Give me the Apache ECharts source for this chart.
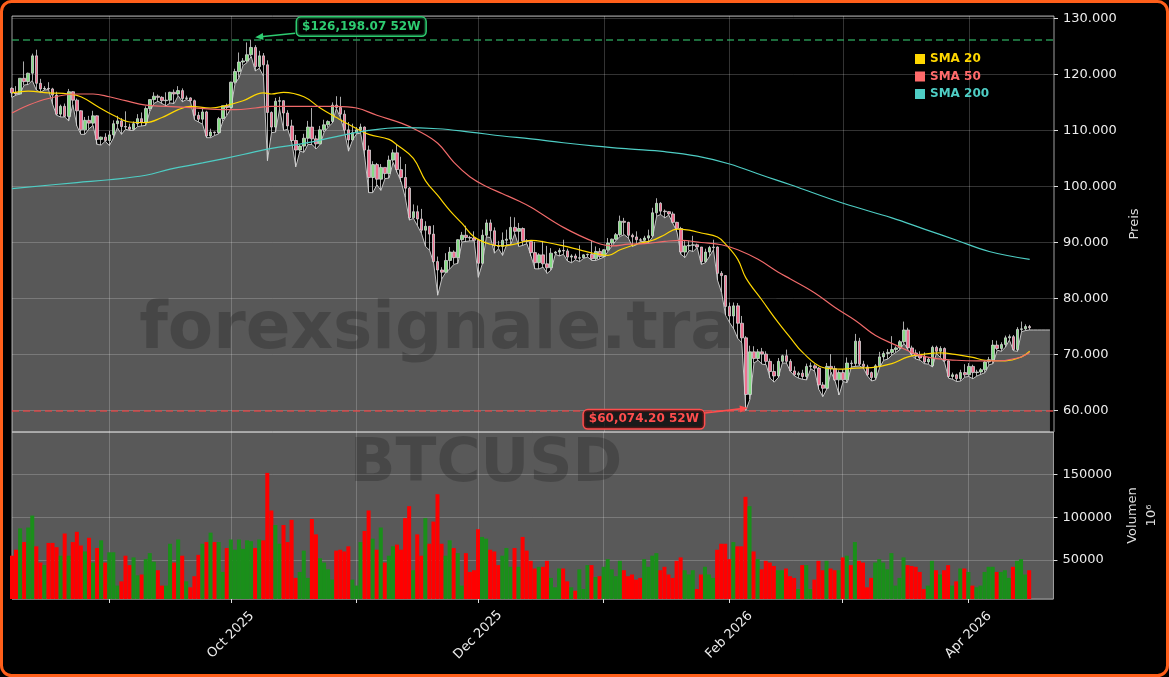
<!DOCTYPE html>
<html><head><meta charset="utf-8">
<script src="https://cdn.jsdelivr.net/npm/echarts@6/dist/echarts.min.js"></script>
<style>html,body{margin:0;padding:0;background:#000;}#c{width:1169px;height:677px;}</style>
</head><body><div id="c"></div>
<script>
// ---------- data ----------
const startDate = '2025-08-08';
const dayCount = 258; // axis runs to 2026-04-22
const tickLabels = ['Oct 2025', 'Dec 2025', 'Feb 2026', 'Apr 2026'];

const open = [
117500,116700,116500,119300,118700,120200,123300,118400,117400,117500,
117400,116300,112900,114300,112500,116900,115400,113500,110100,111800,
111300,112600,108400,108800,108200,109200,111200,111700,110700,110600,
110200,111200,112100,111500,113900,115500,116100,115900,115300,115400,
116800,116500,117100,115700,115800,115300,112700,112000,113300,109000,
109700,109600,112100,114400,114100,118600,120500,122200,122400,123500,
124800,121400,123300,121700,113200,110600,115200,115300,113100,110800,
108200,106500,107200,108600,110600,108500,107600,110100,111000,111600,
114500,114100,112900,110100,108300,109600,110100,110600,106500,101600,
103900,101300,103400,102300,104700,106000,103000,101600,99700,94400,
95500,94200,92200,92900,91500,86600,85100,84700,86800,88300,
87300,90500,91300,90900,90800,90400,86300,91300,93500,92100,
89400,89300,90400,90600,92700,92000,92500,90300,90200,88200,
86400,87800,86200,85500,88100,88300,88600,88500,87400,87600,
87200,87300,87800,87900,87100,88400,87500,88700,89900,90600,
91400,93800,93600,91300,91000,90500,90400,90800,91200,95300,
97000,95600,95500,95100,93600,92500,88300,89400,89500,89600,
89200,86600,88300,89100,89200,84500,84100,78600,76900,78700,
75600,73000,62900,
70500,69300,70500,70100,68800,67000,66200,68800,69800,68800,
67100,66400,66700,66100,67900,68000,67600,64600,64000,67900,
67500,65500,66800,65500,68500,68400,72400,68300,67800,66800,
65900,68000,69600,70200,70400,70900,71200,72300,74400,71200,
70300,69900,69700,68700,68000,71300,70600,71100,68900,66100,
66400,65700,66800,66400,67900,66800,66900,67300,68700,69100,
71700,71100,71800,73000,73200,70900,74500,74600,75000];

const close = [
116700,116500,119300,118700,120200,123300,118400,117400,117500,117400,
116300,112900,114300,112500,116900,115400,113500,110100,111800,111300,
112600,108400,108800,108200,109200,111200,111700,110700,110600,110200,
111200,112100,111500,113900,115500,116100,115900,115300,115400,116800,
116500,117100,115700,115800,115300,112700,112000,113300,109000,109700,
109600,112100,114400,114100,118600,120500,122200,122400,123500,124800,
121400,123300,121700,113200,110600,115200,115300,113100,110800,108200,
106500,107200,108600,110600,108500,107600,110100,111000,111600,114500,
114100,112900,110100,108300,109600,110100,110600,106500,101600,103900,
101300,103400,102300,104700,106000,103000,101600,99700,94400,95500,
94200,92200,92900,91500,86600,85100,84700,86800,88300,87300,
90500,91300,90900,90800,90400,86300,91300,93500,92100,89400,
89300,90400,90600,92700,92000,92500,90300,90200,88200,86400,
87800,86200,85500,88100,88300,88600,88500,87400,87600,87200,
87300,87800,87900,87100,88400,87500,88700,89900,90600,91400,
93800,93600,91300,91000,90500,90400,90800,91200,95300,97000,
95600,95500,95100,93600,92500,88300,89400,89500,89600,89200,
86600,88300,89100,89200,84500,84100,78600,76900,78700,75600,
73000,62900,70500,
69300,70500,70100,68800,67000,66200,68800,69800,68800,67100,
66400,66700,66100,67900,68000,67600,64600,64000,67900,67500,
65500,66800,65500,68500,68400,72400,68300,67900,66400,65900,
68000,69600,70200,70400,70900,71200,72300,74400,71200,70100,
69700,69400,68700,69200,71300,70600,71100,68900,66100,66400,
65700,66800,66400,67900,66800,66900,67300,68700,69100,71700,
71100,71800,73000,73200,70900,74500,74600,75000,74800];

const high = [
117700,117900,119300,122300,120300,123700,124400,119200,117900,118600,
117600,116900,114600,114800,117400,117000,115700,113600,112400,112600,
113500,112700,108900,109500,109900,111800,112600,112200,113400,111200,
111600,112900,113200,114300,115500,116800,116400,116100,116800,116900,
117300,117900,117500,116200,115900,115500,113300,113900,113500,110300,
109800,112400,114400,114800,118700,121000,123900,122900,125700,126198.07,
125200,124200,123800,122500,113400,115800,116000,115400,113600,111900,
109200,107500,109400,111700,114000,109100,110800,111900,111800,115000,
116100,116000,113600,111500,111200,110600,111200,110700,107300,104500,
104200,104000,103400,105500,106600,107500,105300,104000,99900,96800,
96600,96000,93800,92900,93100,87500,85600,88100,89200,88600,
90600,91900,93000,91200,92000,90400,92300,94100,94100,92700,
90300,91800,92300,94600,94500,93500,92700,90600,90400,90100,
88100,90300,89400,89000,88500,89000,90500,88900,87900,88000,
89500,87900,88000,90300,89300,89000,88800,90800,90700,91700,
94800,94400,93700,91600,92000,90800,91200,92300,96200,97900,
97200,95900,95600,95500,93700,92800,90400,90300,91200,89800,
89200,88900,89400,90500,89300,84900,84200,79300,79300,79200,
76900,73300,71600,
71500,71000,71200,70600,69300,68300,69400,70000,70900,69200,
67900,67000,67300,68400,68600,68300,67800,65100,68500,70100,
68000,67200,67400,69500,69000,73700,73000,68900,68200,67000,
68300,70500,70600,71000,73300,71500,72600,75900,74800,71600,
70900,70600,70400,69500,71600,71600,71500,71300,69000,66800,
66600,67300,68300,68500,68200,67300,67600,68900,69600,72600,
72500,72200,73400,73600,73500,74900,75900,75400,75300];

const low = [
115900,116300,116500,118100,118200,118900,117200,116800,117200,117300,
114700,112700,112400,112400,111700,114600,110800,109300,109300,110300,
110900,107500,107400,108100,107300,108600,110500,109300,110200,110000,
110000,110700,110800,110900,113400,114800,115200,114800,114400,114900,
114800,116200,115100,115500,115200,111900,111500,111100,108700,108700,
109100,109400,111600,112700,113900,118300,119400,121600,122100,123200,
120600,121100,119700,104600,109600,109700,113800,110000,110200,107900,
103500,106300,106100,107500,107500,106700,107500,109700,110600,111300,
113900,112300,109800,106300,108300,109400,109500,105300,98900,98900,
100300,99300,101400,101500,104300,102500,100800,98000,94000,94300,
93000,91600,89300,88600,86300,80600,83500,84700,85300,86100,
86300,90100,90200,90300,90300,83800,86200,91000,90900,88100,
88900,87700,89600,89600,91600,89300,89500,89800,87600,85300,
85300,85600,84500,85100,87900,87600,87900,86700,86400,86900,
86600,87200,87400,86800,86800,87100,87400,88400,89400,90400,
91100,91400,90800,89300,89600,90200,90200,90000,91000,94700,
95000,94400,94900,93400,91900,87900,87300,88600,88400,89100,
86100,86400,87500,88700,83300,81100,77000,75700,74600,72900,
72100,60074.20,62000,
68500,69000,68300,68200,65800,65100,65900,68500,68500,67000,
66200,65800,65600,65500,67500,67000,63800,62500,63900,66900,
65300,62800,65200,65000,67800,67900,68000,67600,66200,65300,
65500,67700,69000,69200,69900,70400,70900,72000,70900,69800,
69200,69000,68400,68300,67800,70200,69500,68600,65800,65600,
65200,65300,66000,66100,65700,66200,66500,66800,68200,68400,
70800,70600,71300,72600,70700,70600,74100,74300,74400];

// flat extension of the shaded low-price area to the right (Apr 17 - Apr 21)
const lowTail = [74400, 74400, 74400, 74400, 74400];

const volume = [
55000,62000,87000,71000,88000,102000,66000,47000,44000,70000,
70000,65000,55000,81000,55000,71000,83000,67000,60000,76000,
47000,64000,73000,47000,59000,59000,20000,25000,55000,44000,
53000,32000,33000,51000,58000,48000,38000,20000,20000,69000,
47000,74000,55000,25000,18000,31000,56000,69000,71000,82000,
71000,71000,36000,64000,74000,62000,74000,63000,73000,72000,
64000,74000,73000,152000,108000,91000,69000,91000,71000,97000,
29000,36000,61000,29000,98000,80000,52000,47000,39000,27000,
61000,62000,60000,66000,27000,20000,71000,84000,108000,75000,
62000,88000,47000,55000,66000,68000,62000,99000,113000,38000,
80000,55000,99000,69000,95000,127000,69000,55000,73000,64000,
58000,20000,58000,36000,38000,86000,77000,75000,62000,60000,
44000,55000,64000,42000,64000,42000,77000,61000,49000,40000,
42000,42000,49000,29000,18000,40000,40000,25000,18000,14000,
39000,16000,44000,44000,30000,31000,42000,51000,39000,31000,
49000,38000,31000,33000,27000,29000,51000,42000,55000,58000,
38000,42000,33000,29000,49000,53000,38000,33000,38000,16000,
33000,42000,33000,29000,62000,69000,69000,51000,71000,66000,
66000,124000,113000,60000,51000,39000,49000,47000,43000,38000,
38000,40000,31000,29000,16000,44000,44000,16000,27000,49000,
38000,49000,40000,38000,38000,53000,55000,44000,71000,49000,
47000,18000,29000,47000,51000,47000,39000,58000,20000,29000,
53000,44000,43000,42000,36000,16000,20000,49000,38000,33000,
38000,44000,20000,25000,40000,40000,36000,20000,18000,20000,
36000,42000,42000,36000,36000,38000,29000,42000,49000,51000,
33000,38000];

const sma20 = [
['2025-08-08',116700],['2025-08-12',117000],['2025-08-17',116700],['2025-08-22',116500],
['2025-08-25',116000],['2025-08-29',114300],['2025-09-02',112700],['2025-09-06',111500],
['2025-09-10',111400],['2025-09-14',112300],['2025-09-18',113700],['2025-09-21',114300],
['2025-09-26',114000],['2025-09-29',114300],['2025-10-04',115300],['2025-10-09',116700],
['2025-10-11',116500],['2025-10-14',116800],['2025-10-19',116000],['2025-10-23',114000],
['2025-10-27',112300],['2025-10-31',110700],['2025-11-04',109300],['2025-11-09',108400],
['2025-11-11',107400],['2025-11-15',105000],['2025-11-18',101000],['2025-11-21',98400],
['2025-11-24',95700],['2025-11-27',93400],['2025-11-30',91000],['2025-12-04',89700],
['2025-12-07',89400],['2025-12-10',89700],['2025-12-14',90400],['2025-12-18',90000],
['2025-12-22',89400],['2025-12-26',88700],['2025-12-30',88000],['2026-01-02',87700],
['2026-01-05',88700],['2026-01-09',89700],['2026-01-13',90400],['2026-01-16',91400],
['2026-01-19',92400],['2026-01-22',92200],['2026-01-25',91700],['2026-01-29',91000],
['2026-01-31',89700],['2026-02-03',87000],['2026-02-05',83700],['2026-02-09',79700],
['2026-02-13',75700],['2026-02-16',73000],['2026-02-19',70400],['2026-02-24',67700],
['2026-02-28',67400],['2026-03-04',67600],['2026-03-08',67700],['2026-03-13',68400],
['2026-03-17',69600],['2026-03-21',70100],['2026-03-25',70300],['2026-03-29',70000],
['2026-04-02',69500],['2026-04-05',69000],['2026-04-10',68900],['2026-04-14',69600],
['2026-04-16',70600]];

const sma50 = [
['2025-08-08',113100],['2025-08-12',114500],['2025-08-17',115700],['2025-08-24',116500],
['2025-08-28',116500],['2025-09-01',116000],['2025-09-05',115300],['2025-09-10',114500],
['2025-09-15',114300],['2025-09-20',114100],['2025-09-26',113800],['2025-10-02',113700],
['2025-10-07',114000],['2025-10-11',114300],['2025-10-19',114300],['2025-10-27',114300],
['2025-11-01',114000],['2025-11-06',112700],['2025-11-12',111300],['2025-11-16',110000],
['2025-11-21',107700],['2025-11-25',104300],['2025-11-29',101700],['2025-12-03',100000],
['2025-12-07',98700],['2025-12-11',97400],['2025-12-14',96300],['2025-12-22',92700],
['2025-12-30',90000],['2026-01-03',89400],['2026-01-07',89700],['2026-01-11',89800],
['2026-01-16',90200],['2026-01-20',90400],['2026-01-25',90000],['2026-01-30',89600],
['2026-02-03',88700],['2026-02-08',87000],['2026-02-13',84700],['2026-02-16',83500],
['2026-02-22',81000],['2026-02-27',78400],['2026-03-04',76100],['2026-03-09',73400],
['2026-03-14',71700],['2026-03-19',70100],['2026-03-24',69300],['2026-03-29',69000],
['2026-04-03',68900],['2026-04-08',68900],['2026-04-13',69400],['2026-04-16',70400]];

const sma200 = [
['2025-08-08',99600],['2025-08-24',100700],['2025-09-01',101200],['2025-09-10',102000],
['2025-09-16',103100],['2025-09-24',104200],['2025-10-04',105700],['2025-10-11',106800],
['2025-10-19',107700],['2025-10-27',108900],['2025-11-04',110000],['2025-11-12',110500],
['2025-11-21',110300],['2025-11-29',109700],['2025-12-07',109000],['2025-12-14',108500],
['2025-12-22',107800],['2025-12-30',107200],['2026-01-07',106700],['2026-01-16',106200],
['2026-01-24',105400],['2026-02-01',104000],['2026-02-09',102000],['2026-02-16',100300],
['2026-03-01',97000],['2026-03-13',94400],['2026-03-21',92400],['2026-03-29',90400],
['2026-04-06',88400],['2026-04-16',87000]];

// ---------- helpers ----------
const FONT = '"DejaVu Sans", "Liberation Sans", sans-serif';
const monthNames = ['Jan','Feb','Mar','Apr','May','Jun','Jul','Aug','Sep','Oct','Nov','Dec'];
const dates = [];
(function(){ const d0 = Date.parse(startDate + 'T00:00:00Z');
  for (let i = 0; i < dayCount; i++) dates.push(new Date(d0 + i*86400000).toISOString().slice(0,10)); })();
const monthLabel = s => monthNames[+s.slice(5,7)-1] + ' ' + s.slice(0,4);
const isMonthStart = (i, s) => String(s).slice(8,10) === '01';
const isLabeled = (i, s) => isMonthStart(i, s) && tickLabels.indexOf(monthLabel(String(s))) >= 0;
const fmtDE = v => String(Math.round(v)).replace(/\B(?=(\d{3})+(?!\d))/g, '.');
const fmtUSD = v => '$' + v.toFixed(2).replace(/\B(?=(\d{3})+(?!\d))/g, ',');

const candleData = open.map((o, i) => [o, close[i], low[i], high[i]]);
const areaData = low.concat(lowTail);
const volData = volume.map((v, i) => ({ value: v, itemStyle: { color: close[i] >= open[i] ? '#1a8f1a' : '#ff0000' } }));
const maxHigh = Math.max.apply(null, high);
const minLow = Math.min.apply(null, low);
const hiIdx = high.indexOf(maxHigh), loIdx = low.indexOf(minLow);

const gridLine = { show: true, lineStyle: { color: 'rgba(255,255,255,0.2)', width: 1 } };
const lblStyle = { color: '#ececec', fontSize: 13, fontFamily: FONT };

const option = {
  backgroundColor: '#000',
  animation: false,
  textStyle: { fontFamily: FONT },
  grid: [
    { left: 12, top: 16, width: 1042, height: 416, show: true, borderColor: '#a0a0a0', borderWidth: 1, backgroundColor: 'transparent' },
    { left: 12, top: 432, width: 1042, height: 167, show: true, borderColor: '#a0a0a0', borderWidth: 1, backgroundColor: '#595959' }
  ],
  legend: {
    orient: 'vertical', left: 910, top: 48, icon: 'rect', itemWidth: 10, itemHeight: 10, itemGap: 5.5,
    textStyle: { fontFamily: FONT, fontWeight: 'bold', fontSize: 12 },
    data: [
      { name: 'SMA 20', textStyle: { color: '#FFD700' } },
      { name: 'SMA 50', textStyle: { color: '#FF6B6B' } },
      { name: 'SMA 200', textStyle: { color: '#4ECDC4' } }
    ]
  },
  xAxis: [
    { type: 'category', gridIndex: 0, data: dates, boundaryGap: false,
      axisLine: { show: false }, axisTick: { show: false }, axisLabel: { show: false },
      splitLine: Object.assign({ interval: isMonthStart }, gridLine) },
    { type: 'category', gridIndex: 1, data: dates, boundaryGap: false,
      axisLine: { show: false },
      axisTick: { show: true, interval: isMonthStart, length: 4, inside: false, lineStyle: { color: '#dddddd' } },
      axisLabel: Object.assign({ show: true, interval: isLabeled, rotate: 45, align: 'center', verticalAlign: 'middle',
        margin: 36, formatter: v => monthLabel(v) }, lblStyle),
      splitLine: Object.assign({ interval: isMonthStart }, gridLine) }
  ],
  yAxis: [
    { type: 'value', gridIndex: 0, position: 'right', min: 56200, max: 130410, minInterval: 10000, maxInterval: 10000,
      axisLine: { show: false }, axisTick: { show: true, length: 4, lineStyle: { color: '#dddddd' } },
      axisLabel: Object.assign({ margin: 9, showMinLabel: false, showMaxLabel: false, formatter: fmtDE }, lblStyle),
      splitLine: gridLine,
      name: 'Preis', nameLocation: 'middle', nameGap: 70,
      nameTextStyle: { color: '#dddddd', fontSize: 13, fontFamily: FONT } },
    { type: 'value', gridIndex: 1, position: 'right', min: 4300, max: 199900, minInterval: 50000, maxInterval: 50000,
      axisLine: { show: false }, axisTick: { show: true, length: 4, lineStyle: { color: '#dddddd' } },
      axisLabel: Object.assign({ margin: 9, showMinLabel: false, showMaxLabel: false, formatter: v => String(v) }, lblStyle),
      splitLine: gridLine,
      name: 'Volumen\n10⁶', nameLocation: 'middle', nameGap: 66,
      nameTextStyle: { color: '#dddddd', fontSize: 13, fontFamily: FONT, lineHeight: 19, align: 'center' } }
  ],
  series: [
    { name: 'Low', type: 'line', xAxisIndex: 0, yAxisIndex: 0, data: areaData, symbol: 'none', z: 1,
      lineStyle: { color: '#c4c4c4', width: 1 }, areaStyle: { color: 'rgba(255,255,255,0.345)', opacity: 1, origin: 'start' },
      silent: true },
    { name: 'BTCUSD', type: 'candlestick', xAxisIndex: 0, yAxisIndex: 0, data: candleData, barWidth: 3, z: 5,
      itemStyle: { color: '#84dc84', color0: '#ef6f8f', borderColor: '#d6d6d6', borderColor0: '#d6d6d6', borderWidth: 0.8 },
      markLine: { silent: true, symbol: 'none', label: { show: false }, animation: false,
        data: [
          { yAxis: maxHigh, lineStyle: { color: 'rgba(46,170,95,0.85)', type: [7, 4], width: 1.5 } },
          { yAxis: minLow, lineStyle: { color: 'rgba(225,70,70,0.9)', type: [7, 4], width: 1.6 } }
        ] } },
    { name: 'SMA 20', type: 'line', xAxisIndex: 0, yAxisIndex: 0, data: sma20, smooth: 0.4, symbol: 'none', z: 6,
      itemStyle: { color: '#FFD700' }, lineStyle: { color: '#FFD700', width: 1.2 } },
    { name: 'SMA 50', type: 'line', xAxisIndex: 0, yAxisIndex: 0, data: sma50, smooth: 0.4, symbol: 'none', z: 6,
      itemStyle: { color: '#FF6B6B' }, lineStyle: { color: '#F06A6A', width: 1.2 } },
    { name: 'SMA 200', type: 'line', xAxisIndex: 0, yAxisIndex: 0, data: sma200, smooth: 0.4, symbol: 'none', z: 6,
      itemStyle: { color: '#4ECDC4' }, lineStyle: { color: '#4ECDC4', width: 1.2 } },
    { name: 'Volumen', type: 'bar', xAxisIndex: 1, yAxisIndex: 1, data: volData, barWidth: 4, z: 5 }
  ]
};

const chart = echarts.init(document.getElementById('c'), null, { renderer: 'canvas', width: 1169, height: 677 });
chart.setOption(option);

function arrow(s, e, color) {
  const dx = e[0]-s[0], dy = e[1]-s[1], L = Math.sqrt(dx*dx+dy*dy), ux = dx/L, uy = dy/L, nx = -uy, ny = ux;
  const hl = 8, hw = 3.5;
  return [
    { type: 'polyline', z: 20, shape: { points: [s, [e[0]-ux*hl*0.7, e[1]-uy*hl*0.7]] }, style: { stroke: color, lineWidth: 1.6, fill: null } },
    { type: 'polygon', z: 20, shape: { points: [e, [e[0]-ux*hl+nx*hw, e[1]-uy*hl+ny*hw], [e[0]-ux*hl-nx*hw, e[1]-uy*hl-ny*hw]] }, style: { fill: color } }
  ];
}
const hp = chart.convertToPixel({ gridIndex: 0 }, [hiIdx, maxHigh]);
const lp = chart.convertToPixel({ gridIndex: 0 }, [loIdx, minLow]);
const green = '#2ecc71', red = '#ff4d4d';
const graphics = [
  { type: 'rect', z: 30, shape: { x: 1.5, y: 1.5, width: 1166, height: 674, r: 10 }, style: { fill: null, stroke: '#ff5f1a', lineWidth: 3 } },
  { type: 'text', z: 2, x: 483, y: 331, style: { text: 'forexsignale.trade', font: 'bold 66px "DejaVu Sans"', fill: 'rgba(0,0,0,0.2)', align: 'center', verticalAlign: 'middle' } },
  { type: 'text', z: 2, x: 486, y: 465, style: { text: 'BTCUSD', font: 'bold 60px "DejaVu Sans"', fill: 'rgba(0,0,0,0.2)', align: 'center', verticalAlign: 'middle' } },
  { type: 'text', z: 21, x: hp[0]+110, y: hp[1]-13, style: { text: fmtUSD(maxHigh) + ' 52W', font: 'bold 12px "DejaVu Sans"', fill: green,
      align: 'center', verticalAlign: 'middle', backgroundColor: 'rgba(0,0,0,0.75)', borderColor: green, borderWidth: 1.5, borderRadius: 4, padding: [3, 5] } },
  { type: 'text', z: 21, x: lp[0]-102, y: lp[1]+9, style: { text: fmtUSD(minLow) + ' 52W', font: 'bold 12px "DejaVu Sans"', fill: red,
      align: 'center', verticalAlign: 'middle', backgroundColor: 'rgba(0,0,0,0.7)', borderColor: red, borderWidth: 1.5, borderRadius: 4, padding: [3, 5] } }
].concat(arrow([hp[0]+44, hp[1]-6.3], [hp[0]+4, hp[1]-2.3], green))
 .concat(arrow([lp[0]-41, lp[1]+2.7], [lp[0]+2, lp[1]-2.3], red));
chart.setOption({ graphic: graphics });
</script></body></html>
